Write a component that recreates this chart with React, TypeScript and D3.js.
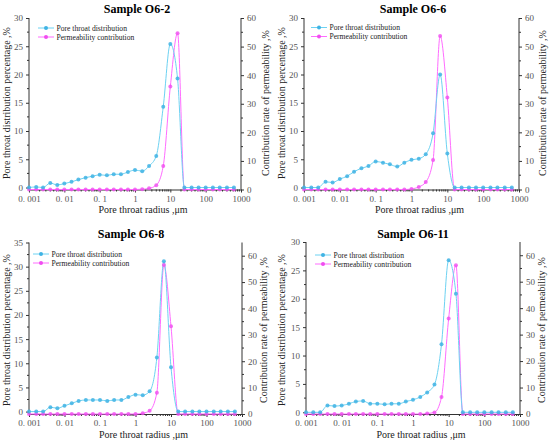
import React, { useRef, useEffect } from 'react';
import * as d3 from 'd3';

// pore throat radius (µm), 5 points per decade
const radius = [
  0.001, 0.0016, 0.0025, 0.004, 0.0063, 0.01, 0.016, 0.025, 0.04, 0.063, 0.1, 0.16, 0.25, 0.4, 0.63,
  1, 1.6, 2.5, 4, 6.3, 10, 16, 25, 40, 63, 100, 160, 250, 400, 630,
];

const o62Pore = [0, 0.1, 0, 0.8, 0.45, 0.7, 1.0, 1.4, 1.75, 2.0, 2.25, 2.15, 2.35, 2.35, 2.75, 3.1, 2.9, 3.8, 5.6, 14.3, 25.4, 19.3, 0, 0, 0, 0, 0, 0, 0, 0];
const o62Perm = [0, 0, 0, 0, 0, 0, 0, 0, 0, 0, 0, 0, 0, 0, 0, 0, 0.1, 0.4, 1.5, 8.2, 36, 54.7, 0, 0, 0, 0, 0, 0, 0, 0];

const o66Pore = [0, 0, 0, 1.0, 0.9, 1.5, 2.0, 2.8, 3.4, 3.8, 4.6, 4.4, 4.1, 3.7, 4.4, 4.9, 5.1, 5.9, 9.6, 20.0, 6.0, 0, 0, 0, 0, 0, 0, 0, 0, 0];
const o66Perm = [0, 0, 0, 0, 0, 0, 0, 0, 0, 0, 0, 0, 0, 0, 0, 0.2, 0.9, 2.6, 10.3, 53.7, 32.2, 0, 0, 0, 0, 0, 0, 0, 0, 0];

const o68Pore = [0, 0, 0, 0.9, 0.7, 1.2, 1.7, 2.2, 2.4, 2.4, 2.4, 2.2, 2.4, 2.4, 3.0, 3.5, 3.4, 4.2, 11.2, 31.1, 9.2, 0, 0, 0, 0, 0, 0, 0, 0, 0];
const o68Perm = [0, 0, 0, 0, 0, 0, 0, 0, 0, 0, 0, 0, 0, 0, 0, 0, 0.3, 1.2, 8.1, 56.5, 33.3, 0, 0, 0, 0, 0, 0, 0, 0, 0];

const o611Pore = [0, 0, 0, 1.2, 1.1, 1.2, 1.5, 1.9, 2.0, 1.5, 1.5, 1.4, 1.5, 1.5, 1.9, 2.2, 2.7, 3.5, 4.9, 12.0, 26.8, 20.9, 0, 0, 0, 0, 0, 0, 0, 0];
const o611Perm = [0, 0, 0, 0, 0, 0, 0, 0, 0, 0, 0, 0, 0, 0, 0, 0, 0, 0.2, 0.6, 6.4, 36.1, 56.2, 0, 0, 0, 0, 0, 0, 0, 0];

const xTicks = [0.001, 0.01, 0.1, 1, 10, 100, 1000];
const xTickLabels = ['0. 001', '0. 01', '0. 1', '1', '10', '100', '1000'];
const leftTicks30 = [0, 5, 10, 15, 20, 25, 30];
const leftTicks35 = [0, 5, 10, 15, 20, 25, 30, 35];
const rightTicks = [0, 10, 20, 30, 40, 50, 60];

const seriesNames = ['Pore throat distribution', 'Permeability contribution'];

const FONT = '"Liberation Serif", "Times New Roman", serif';
const BLUE_LINE = '#6dd2f2';
const BLUE_DOT = '#3fb3e4';
const PINK_LINE = '#ff6cff';
const PINK_DOT = '#f04cf0';

const panels = [
  { title: 'Sample O6-2', pore: o62Pore, perm: o62Perm, ox: 0, oy: 0, x0: 29, x1: 241, y0: 18, y1: 189.5, lMin: -0.35, lMax: 30, rMax: 60, lTicks: leftTicks30, titleX: 137, titleY: 12.5, xLabY: 213, midY: 103, rLabX: 266, legX: 38, legY: 28 },
  { title: 'Sample O6-6', pore: o66Pore, perm: o66Perm, ox: 275, oy: 0, x0: 29, x1: 244, y0: 18, y1: 189.5, lMin: -0.35, lMax: 30, rMax: 60, lTicks: leftTicks30, titleX: 138, titleY: 12.5, xLabY: 213, midY: 103, rLabX: 268, legX: 36, legY: 27.5 },
  { title: 'Sample O6-8', pore: o68Pore, perm: o68Perm, ox: 0, oy: 222, x0: 29, x1: 242, y0: 20.5, y1: 192, lMin: -0.5, lMax: 35, rMax: 65, lTicks: leftTicks35, titleX: 131, titleY: 15.5, xLabY: 216, midY: 108, rLabX: 264, legX: 33, legY: 32 },
  { title: 'Sample O6-11', pore: o611Pore, perm: o611Perm, ox: 275, oy: 222, x0: 31, x1: 245, y0: 20, y1: 192, lMin: -0.3, lMax: 30, rMax: 65, lTicks: leftTicks30, titleX: 138, titleY: 15.5, xLabY: 216, midY: 108, rLabX: 267, legX: 40, legY: 33 },
];

const App: React.FC = () => {
  const svgRef = useRef<SVGSVGElement>(null);

  useEffect(() => {
    const svg = d3.select(svgRef.current);
    svg.selectAll('*').remove();

    svg.append('rect').attr('width', 550).attr('height', 445).attr('fill', '#fff');

    panels.forEach(p => {
      const g = svg.append('g').attr('transform', `translate(${p.ox},${p.oy})`);

      const x = d3.scaleLog().domain([0.001, 1000]).range([p.x0, p.x1]);
      const yL = d3.scaleLinear().domain([p.lMin, p.lMax]).range([p.y1, p.y0]);
      const yR = d3.scaleLinear().domain([0, p.rMax]).range([p.y1, p.y0]);

      // Bottom axis with log minor ticks
      const minor: number[] = [];
      for (let e = -3; e < 3; e++) for (let k = 2; k < 10; k++) minor.push(k * Math.pow(10, e));
      const bottom = g.append('g').attr('transform', `translate(0,${p.y1})`);
      bottom.call(
        d3
          .axisBottom(x)
          .tickValues(xTicks)
          .tickFormat((_, i) => xTickLabels[i])
          .tickSizeInner(3)
          .tickSizeOuter(0)
          .tickPadding(3)
      );
      bottom
        .selectAll('.minor')
        .data(minor)
        .enter()
        .append('line')
        .attr('x1', d => x(d))
        .attr('x2', d => x(d))
        .attr('y1', 0)
        .attr('y2', 2)
        .attr('stroke', '#333');

      // Left axis
      const leftMinor = p.lTicks.slice(0, -1).map(v => v + 2.5);
      const left = g.append('g').attr('transform', `translate(${p.x0},0)`);
      left.call(d3.axisLeft(yL).tickValues(p.lTicks).tickSizeInner(3).tickSizeOuter(0).tickPadding(3));
      left
        .selectAll('.minor')
        .data(leftMinor)
        .enter()
        .append('line')
        .attr('x1', 0)
        .attr('x2', -2)
        .attr('y1', d => yL(d))
        .attr('y2', d => yL(d))
        .attr('stroke', '#333');
      left.select('.domain').attr('d', `M0,${p.y0}V${p.y1}`);

      // Right axis
      const rightMinor = rightTicks.map(v => v + 5).filter(v => v < p.rMax);
      const right = g.append('g').attr('transform', `translate(${p.x1},0)`);
      right.call(d3.axisRight(yR).tickValues(rightTicks).tickSizeInner(3).tickSizeOuter(0).tickPadding(3));
      right
        .selectAll('.minor')
        .data(rightMinor)
        .enter()
        .append('line')
        .attr('x1', 0)
        .attr('x2', 2)
        .attr('y1', d => yR(d))
        .attr('y2', d => yR(d))
        .attr('stroke', '#333');
      right.select('.domain').attr('d', `M0,${p.y0}V${p.y1}`);

      [bottom, left, right].forEach(a => {
        a.selectAll('.domain').attr('stroke', '#333').attr('stroke-width', 1);
        a.selectAll('.tick line').attr('stroke', '#333');
        a.selectAll('text').attr('font-family', FONT).attr('font-size', 9).attr('fill', '#555');
      });

      // Lines
      const idx = radius.map((_, i) => i);
      const poreLine = d3
        .line<number>()
        .x(i => x(radius[i]))
        .y(i => yL(p.pore[i]))
        .curve(d3.curveMonotoneX);
      const permLine = d3
        .line<number>()
        .x(i => x(radius[i]))
        .y(i => yR(p.perm[i]))
        .curve(d3.curveMonotoneX);

      g.append('path').attr('d', permLine(idx)).attr('fill', 'none').attr('stroke', PINK_LINE).attr('stroke-width', 1);
      g.append('path').attr('d', poreLine(idx)).attr('fill', 'none').attr('stroke', BLUE_LINE).attr('stroke-width', 1);

      g.selectAll('.perm-dot')
        .data(idx)
        .enter()
        .append('circle')
        .attr('cx', i => x(radius[i]))
        .attr('cy', i => yR(p.perm[i]))
        .attr('r', 2)
        .attr('fill', PINK_DOT)
        .attr('fill-opacity', 0.8);
      g.selectAll('.pore-dot')
        .data(idx)
        .enter()
        .append('circle')
        .attr('cx', i => x(radius[i]))
        .attr('cy', i => yL(p.pore[i]))
        .attr('r', 2)
        .attr('fill', BLUE_DOT)
        .attr('fill-opacity', 0.85);

      // Legend
      [BLUE_LINE, PINK_LINE].forEach((c, i) => {
        const ly = p.legY + i * 9;
        g.append('line')
          .attr('x1', p.legX)
          .attr('x2', p.legX + 16)
          .attr('y1', ly)
          .attr('y2', ly)
          .attr('stroke', c)
          .attr('stroke-width', 1);
        g.append('circle')
          .attr('cx', p.legX + 8)
          .attr('cy', ly)
          .attr('r', 2)
          .attr('fill', i === 0 ? BLUE_DOT : PINK_DOT);
        g.append('text')
          .attr('x', p.legX + 18.5)
          .attr('y', ly + 2.6)
          .attr('font-family', FONT)
          .attr('font-size', 7.6)
          .attr('fill', '#222')
          .text(seriesNames[i]);
      });

      // Title
      g.append('text')
        .attr('x', p.titleX)
        .attr('y', p.titleY)
        .attr('text-anchor', 'middle')
        .attr('font-family', FONT)
        .attr('font-size', 12)
        .attr('font-weight', 'bold')
        .attr('fill', '#000')
        .text(p.title);

      // Axis labels
      g.append('text')
        .attr('x', (p.x0 + p.x1) / 2 + 8)
        .attr('y', p.xLabY)
        .attr('text-anchor', 'middle')
        .attr('font-family', FONT)
        .attr('font-size', 10)
        .attr('fill', '#222')
        .text('Pore throat radius ,μm');
      g.append('text')
        .attr('transform', `translate(10,${p.midY}) rotate(-90)`)
        .attr('text-anchor', 'middle')
        .attr('font-family', FONT)
        .attr('font-size', 10)
        .attr('fill', '#222')
        .text('Pore throat distribution percentage ,%');
      g.append('text')
        .attr('transform', `translate(${p.rLabX + 3},${p.midY}) rotate(-90)`)
        .attr('text-anchor', 'middle')
        .attr('font-family', FONT)
        .attr('font-size', 10)
        .attr('fill', '#222')
        .text('Contribution rate of permeability ,%');
    });
  }, []);

  return <svg ref={svgRef} width={550} height={445} style={{ position: 'absolute', left: 0, top: 0 }} />;
};

export default App;
